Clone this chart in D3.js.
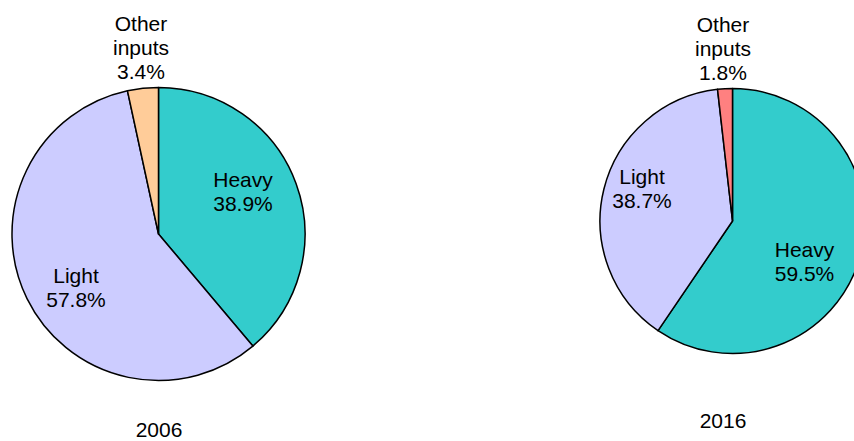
<!DOCTYPE html>
<html>
<head>
<meta charset="utf-8">
<script src="https://cdn.jsdelivr.net/npm/d3@7"></script>
<style>
  html, body { margin: 0; padding: 0; background: #fff; }
  svg { display: block; }
  text { font-family: Arial, "Liberation Sans", Helvetica, sans-serif; font-size: 21px; fill: #000; }
</style>
</head>
<body>
<svg id="chart" width="854" height="441"></svg>
<script>
// Share of inputs by type, two years
const categories = ["Heavy", "Light", "Other inputs"];
const years = ["2006", "2016"];
const values2006 = [38.9, 57.8, 3.4];
const values2016 = [59.5, 38.7, 1.8];

// Slice colours per year (the small "Other" slice changes colour)
const colors2006 = ["#33CCCC", "#CCCCFF", "#FFCC99"];
const colors2016 = ["#33CCCC", "#CCCCFF", "#FF8080"];

// Layout for each pie: centre, radius, year caption and label anchor offsets
const pies = [
  {
    year: years[0], values: values2006, colors: colors2006,
    cx: 158.5, cy: 234, r: 146.5, captionX: 159, captionY: 437,
    labels: [ { dx: 84.5, dy: -47 }, { dx: -82.5, dy: 49 }, { dx: -17.5, dy: -203 } ]
  },
  {
    year: years[1], values: values2016, colors: colors2016,
    cx: 732.5, cy: 221, r: 132.5, captionX: 723, captionY: 428,
    labels: [ { dx: 72, dy: 36 }, { dx: -90.5, dy: -37 }, { dx: -9.5, dy: -189 } ]
  }
];

const svg = d3.select("#chart");
const lineH = 24;

const pie = d3.pie().sort(null).value(d => d.value);

pies.forEach(p => {
  const g = svg.append("g").attr("transform", `translate(${p.cx},${p.cy})`);
  const rows = categories.map((c, i) => ({ name: c, value: p.values[i], color: p.colors[i], label: p.labels[i] }));
  const arc = d3.arc().innerRadius(0).outerRadius(p.r);

  g.selectAll("path.slice")
    .data(pie(rows))
    .join("path")
    .attr("class", "slice")
    .attr("d", arc)
    .attr("fill", d => d.data.color)
    .attr("stroke", "#000")
    .attr("stroke-width", 1.5)
    .attr("stroke-linejoin", "round");

  // Slice labels: name lines followed by the percentage
  g.selectAll("text.lbl")
    .data(pie(rows))
    .join("text")
    .attr("class", "lbl")
    .attr("text-anchor", "middle")
    .each(function(d) {
      const lines = d.data.name.split(" ").concat([d3.format(".1f")(d.data.value) + "%"]);
      const t = d3.select(this);
      lines.forEach((ln, i) => {
        t.append("tspan")
          .attr("x", d.data.label.dx)
          .attr("y", d.data.label.dy + i * lineH)
          .text(ln);
      });
    });

  svg.append("text")
    .attr("x", p.captionX)
    .attr("y", p.captionY)
    .attr("text-anchor", "middle")
    .text(p.year);
});
</script>
</body>
</html>
